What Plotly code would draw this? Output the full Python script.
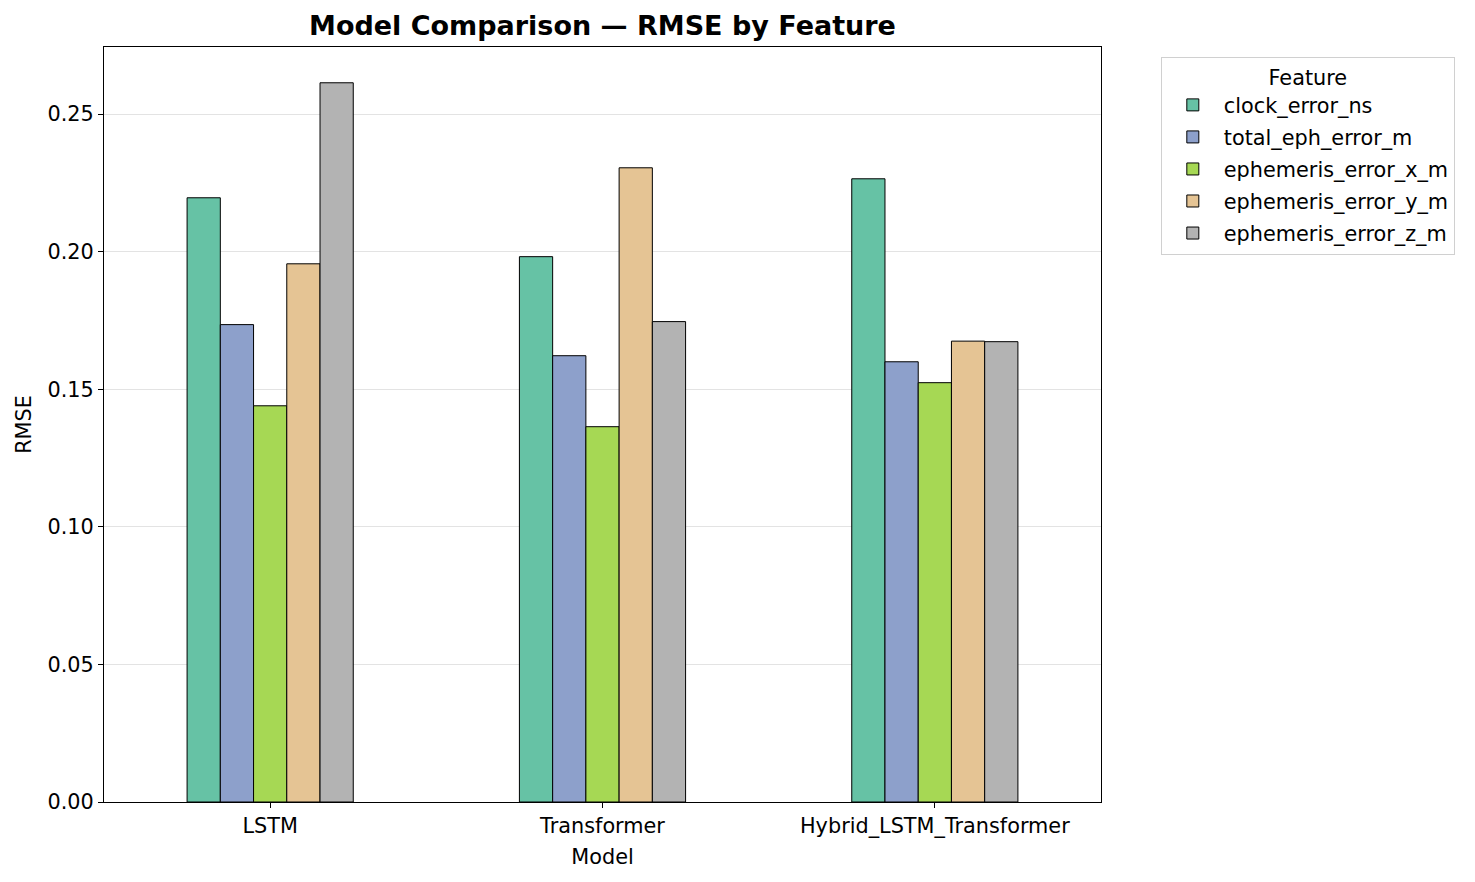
import plotly.graph_objects as go

models = ["LSTM", "Transformer", "Hybrid_LSTM_Transformer"]
features = [
    "clock_error_ns",
    "total_eph_error_m",
    "ephemeris_error_x_m",
    "ephemeris_error_y_m",
    "ephemeris_error_z_m",
]
clock_error_ns = [0.2196, 0.1982, 0.2265]
total_eph_error_m = [0.1735, 0.1622, 0.1600]
ephemeris_error_x_m = [0.1440, 0.1364, 0.1524]
ephemeris_error_y_m = [0.1956, 0.2305, 0.1675]
ephemeris_error_z_m = [0.2614, 0.1746, 0.1673]

series = [clock_error_ns, total_eph_error_m, ephemeris_error_x_m,
          ephemeris_error_y_m, ephemeris_error_z_m]
colors = ["#66c2a5", "#8da0cb", "#a6d854", "#e5c494", "#b3b3b3"]

FONT = "DejaVu Sans"

fig = go.Figure()
for name, vals, color in zip(features, series, colors):
    fig.add_trace(go.Bar(
        x=models, y=vals, name=name, legendgroup=name,
        marker=dict(color=color, line=dict(color="black", width=1)),
    ))

# page body has an 8px margin, so the plot box is offset by it
fig.update_layout(
    width=1475, height=882,
    paper_bgcolor="white", plot_bgcolor="white",
    font=dict(family=FONT, size=20.8, color="black"),
    barmode="group", bargap=0.5, bargroupgap=0,
    margin=dict(l=96, r=382, t=39, b=88),
    title=dict(text="<b>Model Comparison — RMSE by Feature</b>",
               x=(96 + 1093) / 2 / 1475, xanchor="center",
               y=1 - 18 / 882, yanchor="middle",
               font=dict(size=27)),
    legend=dict(
        title=dict(text="Feature", side="top center", font=dict(size=20.8)),
        x=1.06, xanchor="left", y=0.987, yanchor="top",
        bordercolor="#d0d0d0", borderwidth=1,
        font=dict(size=20.8), tracegroupgap=2, itemwidth=52,
    ),
)
fig.update_xaxes(
    title=dict(text="Model", font=dict(size=20.8), standoff=12),
    range=[-0.5, 2.5], showline=True, linecolor="black", linewidth=1.2,
    mirror=True, ticks="outside", ticklen=5, tickcolor="black",
    showgrid=False,
)
fig.update_yaxes(
    title=dict(text="RMSE", font=dict(size=20.8), standoff=10),
    range=[0, 0.2744], tickvals=[0, 0.05, 0.10, 0.15, 0.20, 0.25],
    tickformat=".2f", showline=True, linecolor="black", linewidth=1.2,
    mirror=True, ticks="outside", ticklen=5, tickcolor="black",
    showgrid=True, gridcolor="#e3e3e3", gridwidth=1.3, zeroline=False,
)

fig.write_html("out.html")
